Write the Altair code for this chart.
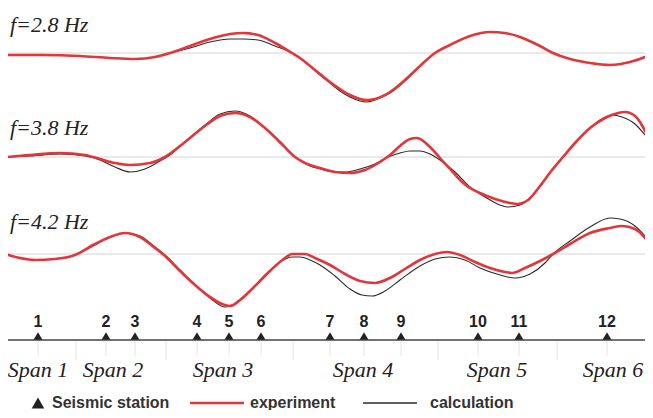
import altair as alt
import pandas as pd

# ---------------- data ----------------
FREQ_LABELS = ["f=2.8 Hz", "f=3.8 Hz", "f=4.2 Hz"]

# f = 2.8 Hz  (distance along bridge, relative amplitude; + is up)
exp28_x = [8, 40, 80, 110, 135, 155, 170, 190, 210, 230, 243, 258, 275, 292, 300, 310, 320, 330, 340, 350, 360, 367, 375, 390, 405, 420, 435, 450, 470, 490, 505, 520, 540, 553, 570, 590, 610, 630, 645, 653]
exp28_y = [-2, -2, -3, -5, -6, -4, 0, 7, 14, 19, 20, 18, 10, 0, -5, -13, -21, -29, -36, -42, -46, -47, -46, -39, -27, -13, 0, 8, 17, 21, 20, 16, 7, 0, -6, -10, -12, -9, -4, 0]
cal28_x = [8, 40, 80, 110, 135, 155, 170, 190, 210, 230, 243, 258, 275, 292, 300, 310, 320, 330, 340, 350, 360, 367, 375, 390, 405, 420, 435, 450, 470, 490, 505, 520, 540, 553, 570, 590, 610, 630, 645, 653]
cal28_y = [-2, -2, -3, -5, -6, -4, 0, 5, 11, 14, 14, 13, 7, 0, -5, -13, -22, -30, -38, -44, -48, -49, -47, -40, -28, -13, 0, 8, 17, 21, 20, 16, 7, 0, -6, -10, -12, -9, -4, 0]

# f = 3.8 Hz
exp38_x = [8, 30, 60, 85, 100, 115, 130, 150, 165, 185, 205, 220, 235, 250, 265, 280, 295, 310, 320, 335, 350, 365, 380, 390, 400, 410, 417, 430, 440, 450, 460, 467, 480, 495, 510, 517, 528, 540, 552, 563, 575, 590, 605, 618, 625, 635, 643, 653]
exp38_y = [0, 2, 4, 2, -2, -6, -8, -6, 0, 15, 31, 41, 44, 40, 29, 15, 0, -8, -11, -15, -16, -13, -5, 2, 11, 18, 19, 10, -1, -12, -23, -29, -36, -42, -46, -47, -43, -29, -13, 0, 14, 29, 39, 44, 45, 41, 30, 7]
cal38_x = [8, 30, 60, 85, 100, 115, 130, 145, 160, 170, 185, 205, 220, 235, 250, 265, 280, 295, 310, 320, 335, 345, 360, 375, 388, 400, 410, 420, 430, 440, 455, 470, 485, 500, 507, 520, 535, 550, 563, 575, 590, 600, 612, 622, 635, 645, 653]
cal38_y = [0, 1, 3, 1, -3, -10, -15, -12, -4, 2, 15, 32, 43, 46, 41, 29, 14, 0, -9, -12, -15, -15, -12, -7, 0, 4, 6, 6, 3, -3, -15, -30, -40, -48, -50, -48, -36, -16, 0, 14, 29, 37, 42, 40, 33, 22, 12]

# f = 4.2 Hz
exp42_x = [5, 20, 35, 55, 75, 95, 110, 125, 140, 155, 165, 180, 195, 210, 222, 230, 240, 255, 270, 285, 292, 305, 315, 330, 345, 360, 375, 390, 405, 420, 435, 447, 460, 475, 490, 505, 512, 525, 540, 553, 570, 590, 610, 622, 635, 645, 653]
exp42_y = [0, -4, -6, -5, -1, 10, 17, 21, 17, 6, -2, -17, -31, -43, -50, -52, -46, -32, -17, -4, 0, 0, -4, -11, -20, -27, -29, -24, -15, -6, 0, 2, -1, -8, -14, -18, -19, -14, -7, 0, 10, 21, 26, 28, 25, 16, 4]
cal42_x = [5, 20, 35, 55, 75, 95, 110, 125, 140, 155, 165, 180, 195, 210, 225, 235, 250, 265, 280, 292, 300, 310, 320, 335, 350, 362, 372, 385, 400, 420, 435, 450, 465, 480, 500, 515, 530, 545, 553, 570, 590, 610, 620, 635, 645, 653]
cal42_y = [0, -4, -6, -5, -1, 9, 17, 21, 18, 7, -1, -16, -31, -44, -53, -50, -37, -21, -8, -3, -3, -6, -11, -22, -35, -41, -42, -37, -26, -12, -5, -3, -6, -14, -21, -24, -20, -9, 0, 13, 27, 36, 35, 28, 18, 8]

# seismic stations
station_ids = ["1", "2", "3", "4", "5", "6", "7", "8", "9", "10", "11", "12"]
station_x = [38, 106, 135, 197, 229, 261, 330, 364, 401, 478, 519, 607]

# span labels and span boundaries
span_labels = ["Span 1", "Span 2", "Span 3", "Span 4", "Span 5", "Span 6"]
span_x = [38, 113, 223, 363, 497, 613]
span_bounds = [76, 166, 293, 438, 557]

# ---------------- layout (vertical tracks) ----------------
X_MIN, X_MAX = 8, 645
TRACK = {"f=2.8 Hz": 357, "f=3.8 Hz": 253, "f=4.2 Hz": 156}
LABEL_Y = {"f=2.8 Hz": 378, "f=3.8 Hz": 275, "f=4.2 Hz": 181}
AXIS_Y = 70
RED = "#e3363a"
DARK = "#2b2b2b"

series = [
    ("f=2.8 Hz", "experiment", exp28_x, exp28_y),
    ("f=2.8 Hz", "calculation", cal28_x, cal28_y),
    ("f=3.8 Hz", "experiment", exp38_x, exp38_y),
    ("f=3.8 Hz", "calculation", cal38_x, cal38_y),
    ("f=4.2 Hz", "experiment", exp42_x, exp42_y),
    ("f=4.2 Hz", "calculation", cal42_x, cal42_y),
]
rows = []
for f, s, xs_, ys_ in series:
    for i, (xv, yv) in enumerate(zip(xs_, ys_)):
        rows.append({"x": xv, "y": TRACK[f] + yv, "freq": f, "series": s, "i": i})
curves = pd.DataFrame(rows)

xs = alt.Scale(domain=[X_MIN, X_MAX], nice=False, zero=False)
ys = alt.Scale(domain=[0, 402], nice=False, zero=False)
X = lambda f="x": alt.X(f, type="quantitative", scale=xs, axis=None)
Y = lambda f="y": alt.Y(f, type="quantitative", scale=ys, axis=None)

base_df = pd.DataFrame({"x": [X_MIN] * 3, "x2": [X_MAX] * 3, "y": [TRACK[f] for f in FREQ_LABELS]})
baselines = alt.Chart(base_df).mark_rule(color="#d4d4d4", strokeWidth=1).encode(
    x=X(), x2="x2", y=Y())

calc = alt.Chart(curves[curves.series == "calculation"]).mark_line(
    color=DARK, strokeWidth=1.1, interpolate="monotone", clip=True
).encode(x=X(), y=Y(), detail="freq", order="i")
expm = alt.Chart(curves[curves.series == "experiment"]).mark_line(
    color=RED, strokeWidth=2.6, interpolate="monotone", clip=True
).encode(x=X(), y=Y(), detail="freq", order="i")

flabels = alt.Chart(pd.DataFrame({"t": FREQ_LABELS, "x": [10] * 3,
                                  "y": [LABEL_Y[f] for f in FREQ_LABELS]})).mark_text(
    align="left", baseline="alphabetic", fontSize=22, fontStyle="italic",
    font="Liberation Serif", color="#222").encode(x=X(), y=Y(), text="t")

axis_df = pd.DataFrame({"x": [X_MIN], "x2": [X_MAX], "y": [AXIS_Y]})
axis_line = alt.Chart(axis_df).mark_rule(color="#444", strokeWidth=1.6).encode(x=X(), x2="x2", y=Y())

tick_df = pd.DataFrame({"x": station_x + span_bounds,
                        "y": [AXIS_Y - 1] * (len(station_x) + len(span_bounds)),
                        "y2": [AXIS_Y - 16] * len(station_x) + [AXIS_Y - 20] * len(span_bounds)})
ticks = alt.Chart(tick_df).mark_rule(color="#ece2e2", strokeWidth=1).encode(x=X(), y=Y(), y2="y2")

st_df = pd.DataFrame({"x": station_x, "id": station_ids, "y": [AXIS_Y + 4] * len(station_x),
                      "ty": [AXIS_Y + 13] * len(station_x)})
tri = alt.Chart(st_df).mark_point(shape="triangle-up", filled=True, size=80, color="#222",
                                  opacity=1).encode(x=X(), y=Y())
st_text = alt.Chart(st_df).mark_text(baseline="alphabetic", fontSize=16, fontWeight="bold",
                                     font="Liberation Sans", color="#222").encode(
    x=X(), y=Y("ty"), text="id")

span_df = pd.DataFrame({"x": span_x, "t": span_labels, "y": [AXIS_Y - 37] * len(span_x)})
spans = alt.Chart(span_df).mark_text(baseline="alphabetic", fontSize=22, fontStyle="italic",
                                     font="Liberation Serif", color="#222").encode(
    x=X(), y=Y(), text="t")

# legend
leg_tri = alt.Chart(pd.DataFrame({"x": [38], "y": [7]})).mark_point(
    shape="triangle-up", filled=True, size=160, color="#222", opacity=1).encode(x=X(), y=Y())
leg_lines = alt.Chart(pd.DataFrame({"x": [190, 363], "x2": [244, 417], "y": [7, 7],
                                    "s": ["experiment", "calculation"]})).mark_rule().encode(
    x=X(), x2="x2", y=Y(),
    color=alt.Color("s:N", scale=alt.Scale(domain=["experiment", "calculation"], range=[RED, DARK]), legend=None),
    strokeWidth=alt.StrokeWidth("s:N", scale=alt.Scale(domain=["experiment", "calculation"], range=[2.6, 1.6]), legend=None))
leg_text = alt.Chart(pd.DataFrame({"x": [52, 250, 430], "y": [7, 7, 7],
                                   "t": ["Seismic station", "experiment", "calculation"]})).mark_text(
    align="left", baseline="middle", fontSize=16, fontWeight="bold",
    font="Liberation Sans", color="#333").encode(x=X(), y=Y(), text="t")

chart = alt.layer(
    baselines, calc, expm, flabels, ticks, axis_line, tri, st_text, spans,
    leg_tri, leg_lines, leg_text
).properties(
    width=637, height=402, padding=0, autosize=alt.AutoSizeParams(type="none")
).configure_view(stroke=None)

chart.save("out.html", embed_options={"renderer": "svg", "actions": False})
